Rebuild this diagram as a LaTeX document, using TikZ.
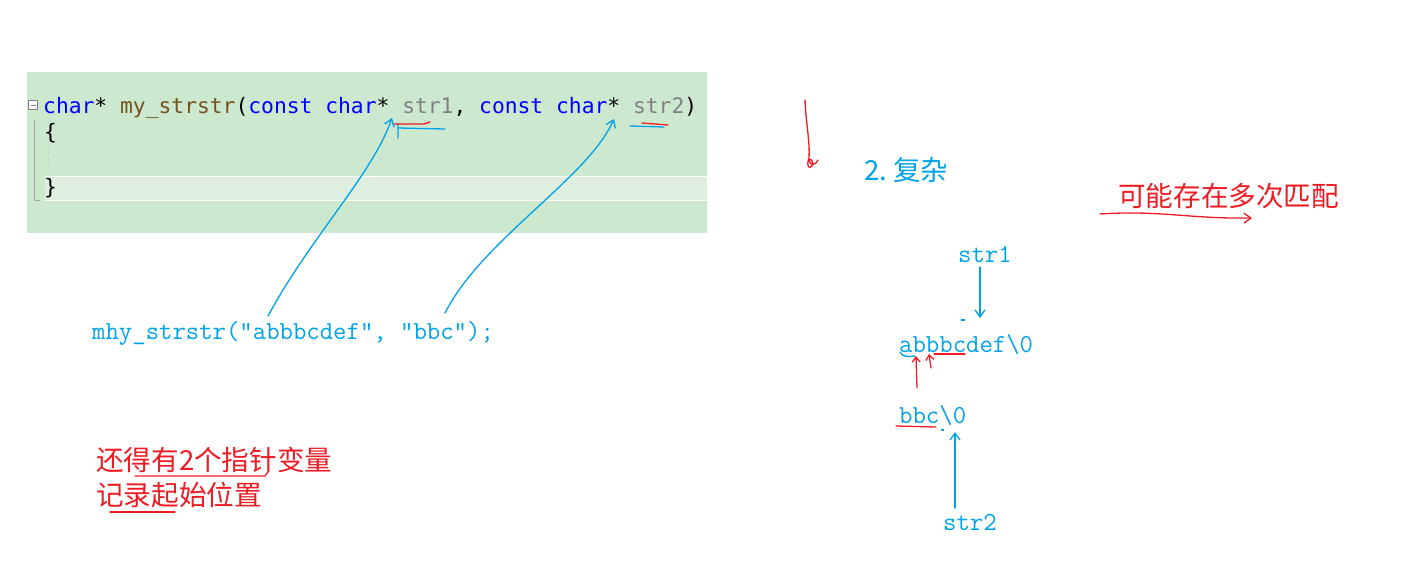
\documentclass[tikz,border=0pt]{standalone}
\usepackage{fontspec}
\usetikzlibrary{arrows.meta,positioning,calc}
\newfontfamily\cjk{Noto Sans CJK SC}
\newfontfamily\codefont{DejaVu Sans Mono}
\definecolor{codebg}{HTML}{CCE8CF}
\definecolor{codehl}{HTML}{DEEFE0}
\definecolor{kwblue}{HTML}{0000FF}
\definecolor{fnbrown}{HTML}{74531F}
\definecolor{pargray}{HTML}{808080}
\definecolor{penblue}{RGB}{0,162,232}
\definecolor{penred}{RGB}{237,28,36}

\begin{document}
\begin{tikzpicture}[x=1pt,y=-1pt,
  ink/.style={draw=penblue,line width=1.3pt,line cap=round,line join=round},
  rink/.style={draw=penred,line width=1.3pt,line cap=round,line join=round},
  tip/.style={-{Straight Barb[length=7pt,width=10pt]}},
  code/.style={font=\codefont\fontsize{21.3}{24}\selectfont,inner sep=0pt,anchor=base west},
  lbl/.style={font=\ttfamily\fontsize{26}{28}\selectfont,text=penblue,inner sep=0pt,anchor=base west},
  cn/.style={font=\cjk\fontsize{27.6}{30}\selectfont,inner sep=0pt,anchor=west}
]
\useasboundingbox (0,0) rectangle (1422,567);
% ---- code editor box ----
\fill[codebg] (27,72) rectangle (707,233);
\fill[codehl] (45,176) rectangle (707,200);
\draw[white,line width=0.8pt] (45,176) -- (707,176) (45,200) -- (707,200);
\draw[gray!70,line width=1pt] (34,120) -- (34,200) -- (40,200);
\draw[gray!40,dashed,line width=0.6pt] (48,146) -- (48,170);
\node[draw=gray,fill=white,minimum size=9pt,inner sep=0pt] (fold) at (33,105) {};
\draw[gray,line width=0.8pt] ($(fold)+(-2.5,0)$) -- ($(fold)+(2.5,0)$);
\node[code] (sig) at (43,114) {\textcolor{kwblue}{char}* \textcolor{fnbrown}{my\_strstr}(\textcolor{kwblue}{const} \textcolor{kwblue}{char}* \textcolor{pargray}{str1}, \textcolor{kwblue}{const} \textcolor{kwblue}{char}* \textcolor{pargray}{str2})};
\node[code] (open) at (44,140) {\{};
\node[code] (close) at (44,194) {\}};
% ---- call line ----
\node[lbl] (call) at (92,339) {mhy\_strstr("abbbcdef", "bbc");};
\coordinate (p1) at (392,118);
\coordinate (p2) at (614,119);
\draw[ink,tip] (268,316) .. controls (312,235) and (372,175) .. (p1);
\draw[ink,tip] (445,313) .. controls (482,240) and (588,178) .. (p2);
\draw[ink] (398,128) -- (445,129) (398,124) -- (398,138);
\draw[rink] (394,124) -- (424,124) -- (430,122);
\draw[ink] (630,126) -- (664,127);
\draw[rink] (642,123) -- (668,125);
% ---- red note bottom left ----
\node[cn,text=penred] (note1) at (96,460) {还得有2个指针变量};
\node[cn,text=penred] (note2) at (96,495) {记录起始位置};
\draw[rink] (135,476) -- (265,476) -- (268,472);
\draw[rink] (110,512) -- (175,512);
% ---- right side ----
\draw[rink] (805,100) .. controls (806,125) and (810,140) .. (809,158)
  .. controls (806,166) and (809,170) .. (812,166) .. controls (814,162) and (811,158) .. (809,160)
  .. controls (810,166) and (815,166) .. (818,160);
\node[cn,text=penblue] (cplx) at (864,170) {2.\hspace{6pt}复杂};
\node[cn,text=penred] (multi) at (1118,196) {可能存在多次匹配};
\draw[rink,tip] (1100,214) .. controls (1160,210) and (1190,219) .. (1252,218);
\node[lbl] (s1) at (958,262) {str1};
\node[lbl] (hay) at (899,352) {abbbcdef\textbackslash0};
\node[lbl] (ndl) at (899,423) {bbc\textbackslash0};
\node[lbl] (s2) at (943,530) {str2};
\coordinate (s1b) at (980,267);
\coordinate (hayt) at (980,318);
\coordinate (s2t) at (955,508);
\coordinate (ndlb) at (955,432);
\draw[ink,tip] (s1b) -- (hayt);
\draw[ink,tip] (s2t) -- (ndlb);
\fill[penblue] (961,319) rectangle (965,321);
\fill[penblue] (941,429) rectangle (944,431);
\draw[ink] (900,352) .. controls (902,357) and (908,357) .. (915,356);
\draw[rink] (934,354) -- (965,354);
\draw[rink,-{Straight Barb[length=5pt,width=8pt]}] (917,388) -- (916,356);
\draw[rink,-{Straight Barb[length=5pt,width=8pt]}] (931,368) -- (929,354);
\draw[rink] (896,426) -- (936,427);
\end{tikzpicture}
\end{document}
